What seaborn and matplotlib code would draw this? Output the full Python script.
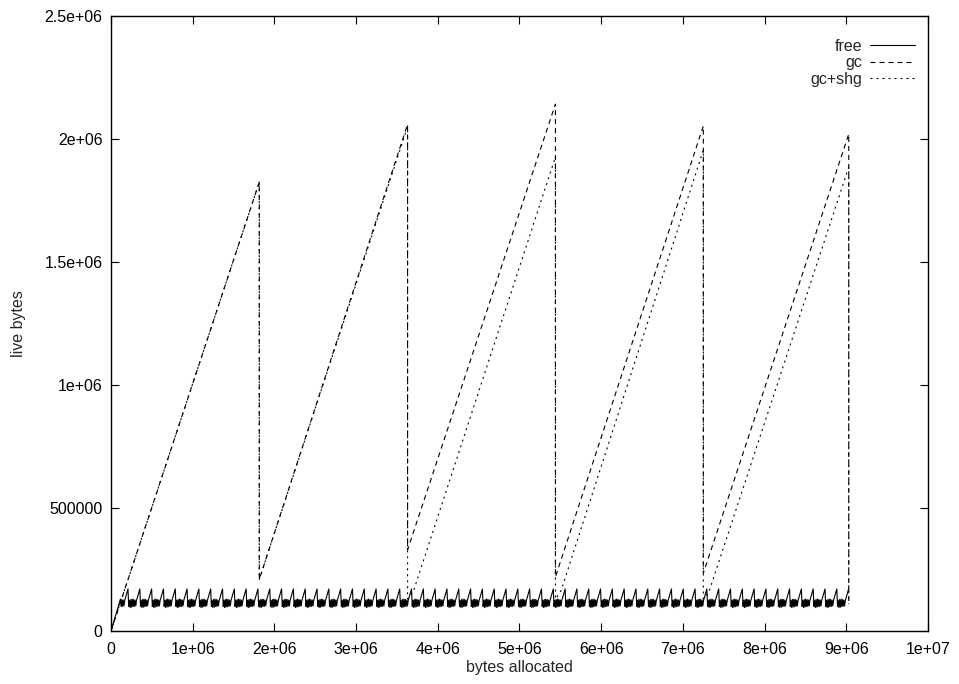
import numpy as np
import pandas as pd
import matplotlib
matplotlib.use("Agg")
import matplotlib.pyplot as plt
import seaborn as sns
from matplotlib.ticker import FuncFormatter, MultipleLocator

# gc: live bytes with a collector
gc_x = [0, 1.815e6, 1.815e6, 3.63e6, 3.63e6, 5.44e6, 5.44e6, 7.25e6, 7.25e6, 9.03e6, 9.03e6]
gc_y = [0, 1.825e6, 0.21e6, 2.06e6, 0.33e6, 2.142e6, 0.22e6, 2.053e6, 0.235e6, 2.02e6, 0.11e6]

# gc+shg
shg_x = [0, 1.815e6, 1.815e6, 3.63e6, 3.63e6, 3.70e6, 5.44e6, 5.44e6, 5.51e6,
         7.25e6, 7.25e6, 7.32e6, 9.03e6, 9.03e6]
shg_y = [0, 1.825e6, 0.21e6, 2.05e6, 0.13e6, 0.16e6, 1.927e6, 0.13e6, 0.165e6,
         1.955e6, 0.13e6, 0.16e6, 1.886e6, 0.11e6]

# free: ramps up then a repeating sawtooth (one tooth)
free_start_x = [0, 0.11e6]
free_start_y = [0, 0.125e6]
tooth_frac = [0.06, 0.12, 0.18, 0.24, 0.30, 0.36, 0.42, 0.48, 0.54, 0.60, 0.66, 0.72, 1.00]
tooth_y = [100e3, 125e3, 95e3, 128e3, 97e3, 130e3, 99e3, 128e3, 100e3, 126e3, 102e3, 124e3, 171e3]
tooth_period = 0.1446e6
first_peak = 0.208e6
n_teeth = 62

fx, fy = list(free_start_x), list(free_start_y)
for k in range(n_teeth):
    base = first_peak + (k - 1) * tooth_period
    for f, v in zip(tooth_frac, tooth_y):
        x = base + f * tooth_period
        if x > fx[-1]:
            fx.append(x)
            fy.append(v)

sns.set_style("ticks")
plt.rcParams['font.family'] = ['Liberation Sans', 'DejaVu Sans']

fig = plt.figure(figsize=(9.59, 6.84), dpi=100)
ax = fig.add_axes([111 / 959, 53 / 684, 817 / 959, 615 / 684])

lw = 0.8
sns.lineplot(x=fx, y=fy, sort=False, estimator=None, ax=ax, color='black',
             linewidth=lw, linestyle='-', label='free')
sns.lineplot(x=gc_x, y=gc_y, sort=False, estimator=None, ax=ax, color='black',
             linewidth=lw, linestyle=(0, (4.5, 3.6)), label='gc')
sns.lineplot(x=shg_x, y=shg_y, sort=False, estimator=None, ax=ax, color='black',
             linewidth=lw, linestyle=(0, (1.8, 3.6)), label='gc+shg')

ax.set_xlim(0, 1e7)
ax.set_ylim(0, 2.5e6)
ax.xaxis.set_major_locator(MultipleLocator(1e6))
ax.yaxis.set_major_locator(MultipleLocator(5e5))
fmt = FuncFormatter(lambda v, p: f"{v:g}")
ax.xaxis.set_major_formatter(fmt)
ax.yaxis.set_major_formatter(fmt)

for s in ax.spines.values():
    s.set_visible(True)
    s.set_color('black')
    s.set_linewidth(1.0)
ax.tick_params(direction='in', length=6, width=0.8, top=True, right=True,
               labelsize=11.5, colors='black', pad=6)
ax.tick_params(axis='x', pad=8)

ax.set_xlabel('bytes allocated', fontsize=11.5, labelpad=2)
ax.set_ylabel('live bytes', fontsize=11.5, labelpad=13)

leg = ax.legend(loc='upper right', bbox_to_anchor=(1, 1 - 10 / 615), frameon=False,
                markerfirst=False, fontsize=11.5, handlelength=2.8, handletextpad=0.5,
                labelspacing=0.1, borderaxespad=0.4)
for col in leg._legend_handle_box.get_children():
    col.align = 'right'

fig.savefig('out.png', dpi=100)
